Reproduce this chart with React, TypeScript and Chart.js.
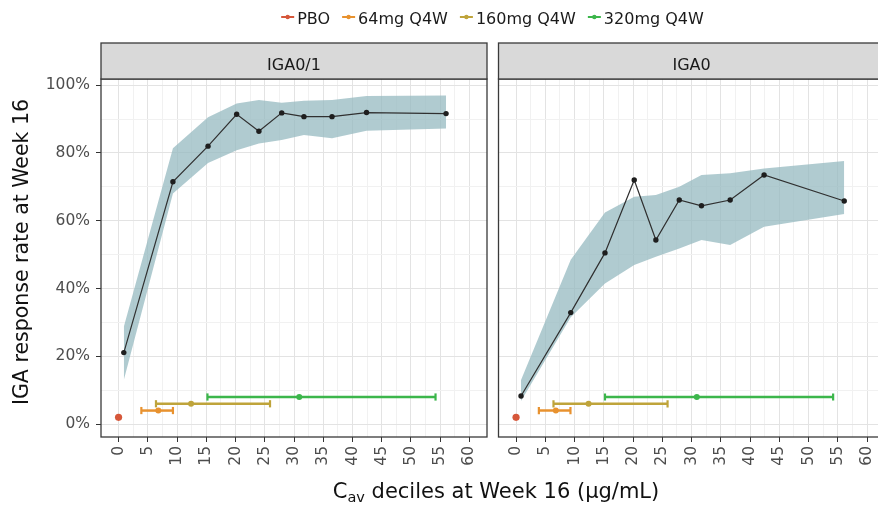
import React, { useEffect, useRef } from "react";
import { Chart, registerables } from "chart.js";

Chart.register(...registerables);

const FONT = "'DejaVu Sans', sans-serif";

// ---- Panel IGA0/1 ----
const cavDeciles01 = [0.9, 9.3, 15.3, 20.2, 24.0, 27.9, 31.7, 36.5, 42.4, 56.0];
const response01 = [21.1, 71.5, 82.0, 91.4, 86.4, 91.8, 90.7, 90.7, 91.9, 91.6];
const lower01 = [13.0, 68.0, 77.0, 80.8, 82.8, 83.8, 85.3, 84.3, 86.5, 87.2];
const upper01 = [28.7, 81.4, 90.5, 94.6, 95.6, 94.8, 95.4, 95.6, 96.8, 96.9];

// ---- Panel IGA0 ----
const cavDeciles0 = [0.85, 9.35, 15.2, 20.2, 23.9, 27.9, 31.7, 36.6, 42.4, 56.1];
const response0 = [8.3, 32.9, 50.5, 72.0, 54.3, 66.1, 64.4, 66.1, 73.5, 65.8];
const lower0 = [6.8, 31.5, 41.5, 46.9, 49.4, 51.8, 54.3, 52.8, 58.2, 62.0];
const upper0 = [13.0, 48.5, 62.4, 67.1, 67.6, 70.0, 73.5, 74.0, 75.4, 77.6];

// ---- Dose groups (Cav range bars) ----
const doseLabels = ["PBO", "64mg Q4W", "160mg Q4W", "320mg Q4W"];
const doseColors = ["#d6573a", "#e8922f", "#bfa43b", "#3cb64b"];
const doseRate = [2, 4, 6, 8];
const doseCavLow = [0, 3.9, 6.4, 15.2];
const doseCavMid = [0, 6.8, 12.4, 30.9];
const doseCavHigh = [0, 9.3, 25.9, 54.2];

// ---- Axis ticks ----
const xMajorTicks = [0, 5, 10, 15, 20, 25, 30, 35, 40, 45, 50, 55, 60];
const yMajorTicks = [0, 20, 40, 60, 80, 100];
const yTickLabels = ["0%", "20%", "40%", "60%", "80%", "100%"];

const stripLabels = ["IGA0/1", "IGA0"];
const yTitle = "IGA response rate at Week 16";

const BAND = "rgba(150,185,192,0.75)";

function withMinor(major: number[]) {
  const out: number[] = [];
  for (let i = 0; i < major.length; i++) {
    out.push(major[i]);
    if (i < major.length - 1) out.push((major[i] + major[i + 1]) / 2);
  }
  return out;
}

function buildDatasets(cav: number[], resp: number[], lo: number[], hi: number[]) {
  const ds: any[] = [];
  ds.push({
    type: "line",
    data: cav.map((x, i) => ({ x, y: lo[i] })),
    borderWidth: 0,
    borderColor: "transparent",
    pointRadius: 0,
    fill: false,
    order: 10,
  });
  ds.push({
    type: "line",
    data: cav.map((x, i) => ({ x, y: hi[i] })),
    borderWidth: 0,
    borderColor: "transparent",
    pointRadius: 0,
    fill: "-1",
    backgroundColor: BAND,
    order: 10,
  });
  ds.push({
    type: "line",
    data: cav.map((x, i) => ({ x, y: resp[i] })),
    borderColor: "#303030",
    borderWidth: 1.2,
    pointRadius: 2.7,
    pointBackgroundColor: "#1e1e1e",
    pointBorderWidth: 0,
    fill: false,
    order: 5,
  });
  doseLabels.forEach((_, i) => {
    const c = doseColors[i];
    const y = doseRate[i];
    if (doseCavLow[i] === doseCavHigh[i]) {
      ds.push({
        type: "line",
        data: [{ x: doseCavMid[i], y }],
        showLine: false,
        pointRadius: 3.6,
        pointBackgroundColor: c,
        pointBorderWidth: 0,
        order: 1,
      });
    } else {
      ds.push({
        type: "line",
        data: [
          { x: doseCavLow[i], y },
          { x: doseCavMid[i], y },
          { x: doseCavHigh[i], y },
        ],
        borderColor: c,
        borderWidth: 2.5,
        pointStyle: ["line", "circle", "line"],
        pointRotation: [90, 0, 90],
        pointRadius: [3.6, 3, 3.6],
        pointBorderWidth: [2.2, 0, 2.2],
        pointBackgroundColor: c,
        pointBorderColor: c,
        fill: false,
        order: 1,
      });
    }
  });
  return ds;
}

function makeOptions(opts: { xMax: number; yWidth: number; showY: boolean; padRight: number }) {
  const xGrid = withMinor(xMajorTicks);
  const yGrid = withMinor(yMajorTicks);
  return {
    responsive: false,
    animation: false,
    devicePixelRatio: 1,
    layout: { autoPadding: false, padding: { top: 79, left: 0, right: opts.padRight, bottom: 0 } },
    plugins: {
      legend: { display: false },
      tooltip: { enabled: false },
      title: { display: false },
    },
    scales: {
      x: {
        type: "linear",
        min: -3,
        max: opts.xMax,
        afterBuildTicks: (s: any) => {
          s.ticks = xGrid.map((v) => ({ value: v }));
        },
        afterFit: (s: any) => {
          s.height = 70;
          s.paddingLeft = 0;
          s.paddingRight = 0;
        },
        ticks: {
          autoSkip: false,
          minRotation: 90,
          maxRotation: 90,
          padding: 4,
          color: "#4d4d4d",
          font: { family: FONT, size: 15.5 },
          callback: (v: number) => (xMajorTicks.includes(v) ? String(v) : ""),
        },
        grid: {
          color: (ctx: any) =>
            ctx.tick && xMajorTicks.includes(ctx.tick.value) ? "#e3e3e3" : "#f1f1f1",
          lineWidth: 1,
          drawTicks: true,
          tickLength: 5,
          tickWidth: 1,
          tickColor: (ctx: any) =>
            ctx.tick && xMajorTicks.includes(ctx.tick.value) ? "#333333" : "transparent",
        },
        border: { display: false },
      },
      y: {
        type: "linear",
        min: -3.8,
        max: 101.8,
        afterBuildTicks: (s: any) => {
          s.ticks = yGrid.map((v) => ({ value: v }));
        },
        afterFit: (s: any) => {
          s.width = opts.yWidth;
          s.paddingTop = 0;
          s.paddingBottom = 0;
        },
        ticks: {
          display: opts.showY,
          padding: 6,
          color: "#4d4d4d",
          font: { family: FONT, size: 15.5 },
          callback: (v: number) => {
            const k = yMajorTicks.indexOf(v);
            return k >= 0 ? yTickLabels[k] : "";
          },
        },
        grid: {
          color: (ctx: any) =>
            ctx.tick && yMajorTicks.includes(ctx.tick.value) ? "#e3e3e3" : "#f1f1f1",
          lineWidth: 1,
          drawTicks: opts.showY,
          tickLength: 5,
          tickWidth: 1,
          tickColor: (ctx: any) =>
            ctx.tick && yMajorTicks.includes(ctx.tick.value) ? "#333333" : "transparent",
        },
        border: { display: false },
      },
    },
  };
}

function panelPlugin(stripLabel: string, isMain: boolean) {
  return {
    id: "panelDecor",
    afterDraw(chart: any) {
      const { ctx, chartArea, scales } = chart;
      const xs = scales.x;
      const left = chartArea.left;
      const right = xs.getPixelForValue(63);
      const top = chartArea.top;
      const bottom = chartArea.bottom;
      ctx.save();
      // panel border
      ctx.strokeStyle = "#3a3a3a";
      ctx.lineWidth = 1.3;
      ctx.strokeRect(left, top, right - left, bottom - top);
      // strip
      ctx.fillStyle = "#d9d9d9";
      ctx.fillRect(left, top - 36, right - left, 36);
      ctx.strokeRect(left, top - 36, right - left, 36);
      ctx.fillStyle = "#1a1a1a";
      ctx.font = `16px ${FONT}`;
      ctx.textAlign = "center";
      ctx.textBaseline = "alphabetic";
      ctx.fillText(stripLabel, xs.getPixelForValue(30), top - 9);

      if (isMain) {
        // legend
        ctx.font = `16px ${FONT}`;
        const symW = 13;
        const gapSym = 3;
        const gapItem = 12;
        const widths = doseLabels.map((l) => ctx.measureText(l).width);
        let total = 0;
        widths.forEach((w, i) => {
          total += symW + gapSym + w + (i < widths.length - 1 ? gapItem : 0);
        });
        let x = 492.5 - total / 2;
        ctx.textAlign = "left";
        doseLabels.forEach((lab, i) => {
          const c = doseColors[i];
          ctx.strokeStyle = c;
          ctx.lineWidth = 2;
          ctx.beginPath();
          ctx.moveTo(x, 17);
          ctx.lineTo(x + symW, 17);
          ctx.stroke();
          ctx.fillStyle = c;
          ctx.beginPath();
          ctx.arc(x + symW / 2, 17, 2.2, 0, Math.PI * 2);
          ctx.fill();
          x += symW + gapSym;
          ctx.fillStyle = "#1a1a1a";
          ctx.fillText(lab, x, 23.5);
          x += widths[i] + gapItem;
        });

        // y title
        ctx.save();
        ctx.translate(23, 252);
        ctx.rotate(-Math.PI / 2);
        ctx.font = `20.5px ${FONT}`;
        ctx.textAlign = "center";
        ctx.textBaseline = "middle";
        ctx.fillStyle = "#111111";
        ctx.fillText(yTitle, 0, 0);
        ctx.restore();

        // x title with subscript
        const big = `21px ${FONT}`;
        const small = `14.5px ${FONT}`;
        const partC = "C";
        const partSub = "av";
        const partRest = " deciles at Week 16 (μg/mL)";
        ctx.font = big;
        const wC = ctx.measureText(partC).width;
        const wRest = ctx.measureText(partRest).width;
        ctx.font = small;
        const wSub = ctx.measureText(partSub).width;
        const tw = wC + wSub + wRest;
        let tx = 496 - tw / 2;
        ctx.textAlign = "left";
        ctx.textBaseline = "alphabetic";
        ctx.fillStyle = "#111111";
        ctx.font = big;
        ctx.fillText(partC, tx, 498);
        tx += wC;
        ctx.font = small;
        ctx.fillText(partSub, tx, 502);
        tx += wSub;
        ctx.font = big;
        ctx.fillText(partRest, tx, 498);
      }
      ctx.restore();
    },
  };
}

export default function App() {
  const leftRef = useRef<HTMLCanvasElement | null>(null);
  const rightRef = useRef<HTMLCanvasElement | null>(null);

  useEffect(() => {
    if (!leftRef.current || !rightRef.current) return;
    const leftChart = new Chart(leftRef.current, {
      type: "line",
      data: { datasets: buildDatasets(cavDeciles01, response01, lower01, upper01) },
      options: makeOptions({ xMax: 63, yWidth: 101, showY: true, padRight: 391 }) as any,
      plugins: [panelPlugin(stripLabels[0], true)],
    } as any);
    const rightChart = new Chart(rightRef.current, {
      type: "line",
      data: { datasets: buildDatasets(cavDeciles0, response0, lower0, upper0) },
      options: makeOptions({ xMax: 61.87, yWidth: 8.5, showY: false, padRight: 0 }) as any,
      plugins: [panelPlugin(stripLabels[1], false)],
    } as any);
    return () => {
      leftChart.destroy();
      rightChart.destroy();
    };
  }, []);

  return (
    <div
      style={{
        position: "fixed",
        left: 0,
        top: 0,
        width: 878,
        height: 507,
        background: "#ffffff",
        overflow: "hidden",
      }}
    >
      <canvas
        ref={leftRef}
        width={878}
        height={507}
        style={{ position: "absolute", left: 0, top: 0, width: 878, height: 507 }}
      />
      <canvas
        ref={rightRef}
        width={388}
        height={507}
        style={{ position: "absolute", left: 490, top: 0, width: 388, height: 507 }}
      />
    </div>
  );
}
